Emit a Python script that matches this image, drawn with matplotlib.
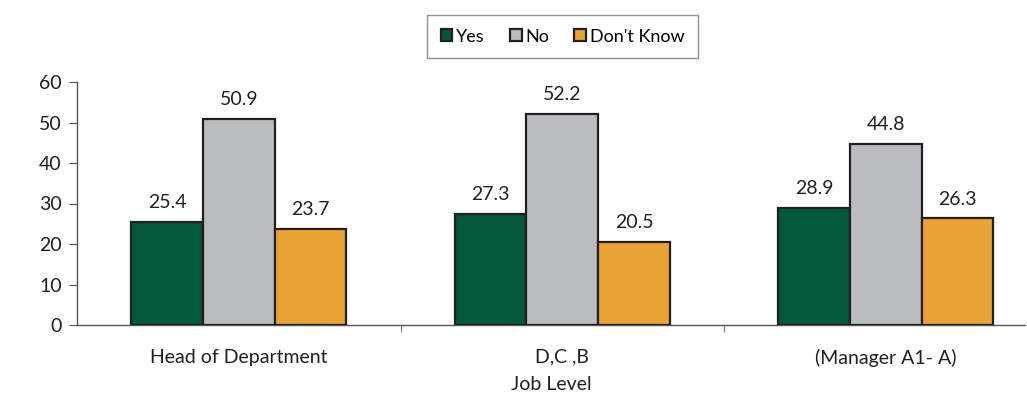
import numpy as np
import matplotlib.pyplot as plt

plt.rcParams['font.family'] = ['Lato', 'DejaVu Sans']

levels = ['Head of Department', 'D,C ,B', '(Manager A1- A)']
answers = ['Yes', 'No', "Don't Know"]
yes = [25.4, 27.3, 28.9]
no = [50.9, 52.2, 44.8]
dont_know = [23.7, 20.5, 26.3]
colors = ['#03573A', '#BBBCC0', '#E8A334']
ink = '#231F20'
fs = 14

fig = plt.figure(figsize=(10.27, 3.95), dpi=100)
ax = fig.add_axes([77 / 1027, 70 / 395, 948 / 1027, 243 / 395])

x = np.arange(len(levels))
width = 0.222
for i, (vals, name) in enumerate(zip([yes, no, dont_know], answers)):
    pos = x + (i - 1) * width
    bars = ax.bar(pos, vals, width, color=colors[i], edgecolor=ink,
                  linewidth=1.6, label=name, zorder=3)
    for b, v in zip(bars, vals):
        ax.annotate(f'{v:.1f}', (b.get_x() + b.get_width() / 2, v),
                    xytext=(0, 14), textcoords='offset points',
                    ha='center', va='center', fontsize=fs, color=ink)

ax.set_xlim(-0.5, -0.5 + 948 / 323.5)
ax.set_ylim(0, 60)
ax.set_yticks(range(0, 61, 10))
ax.set_xticks(x)
ax.set_xticklabels(levels)
ax.set_xticks([0.5, 1.5], minor=True)
ax.tick_params(axis='x', which='major', length=0, pad=17, labelsize=fs, labelcolor=ink)
ax.tick_params(axis='x', which='minor', length=5, direction='out', color='#555555')
ax.tick_params(axis='y', length=6, direction='out', color='#555555', labelsize=fs,
               labelcolor=ink, pad=5)
ax.set_xlabel('Job Level', fontsize=fs, color=ink, labelpad=7)

for s in ['top', 'right']:
    ax.spines[s].set_visible(False)
for s in ['left', 'bottom']:
    ax.spines[s].set_color('#555555')
    ax.spines[s].set_linewidth(1.0)

leg = ax.legend(loc='center', bbox_to_anchor=(562.5 / 1027, 1 - 36.5 / 395),
                bbox_transform=fig.transFigure, ncol=3, fontsize=13,
                fancybox=False, handlelength=0.65, handleheight=0.65,
                handletextpad=0.2, columnspacing=1.4, borderpad=0.75,
                borderaxespad=0)
leg.get_frame().set_edgecolor('#777777')
leg.get_frame().set_linewidth(1.0)

fig.savefig('out.png', dpi=100)
